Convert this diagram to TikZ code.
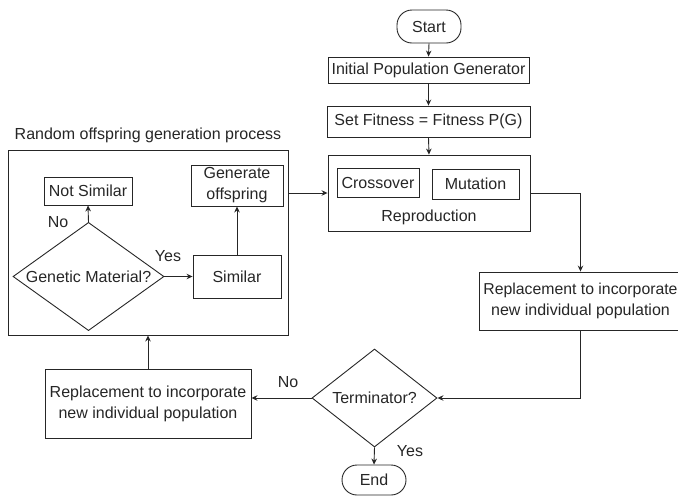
\documentclass[tikz,border=0pt]{standalone}
\usepackage{fontspec}
\setmainfont{Liberation Sans}
\usetikzlibrary{shapes.geometric,arrows.meta}
\begin{document}
\begin{tikzpicture}[x=1pt,y=-1pt,
  every node/.style={font=\fontsize{16pt}{21pt}\selectfont, text=black!85, inner sep=0pt, align=center},
  box/.style={draw=black!85, line width=0.9pt, rectangle},
  pill/.style={draw=black!85, line width=0.9pt, rectangle, rounded corners=15pt},
  dia/.style={draw=black!85, line width=0.9pt, diamond, aspect=1.3},
  lbl/.style={},
  conn/.style={draw=black!85, line width=0.9pt, -{Stealth[length=6pt,width=5.5pt,inset=2pt]}}]
\useasboundingbox (0,0) rectangle (678,496);
\begin{scope}
\clip (0,0) rectangle (678,496);
% right column
\node[pill, minimum width=64pt, minimum height=33pt] (start) at (429,26.5) {Start};
\node[box, minimum width=201pt, minimum height=26pt] (init) at (428.5,70) {Initial Population Generator};
\node[box, minimum width=203pt, minimum height=31pt] (fit) at (428.5,121.5) {Set Fitness = Fitness P(G)};
\node[box, minimum width=202pt, minimum height=76pt] (repro) at (429,193) {};
\node[box, minimum width=82pt, minimum height=29pt] (cross) at (378,182.5) {Crossover};
\node[box, minimum width=87pt, minimum height=30pt] (mut) at (475.5,184) {Mutation};
\node[lbl] (reprolbl) at (429,217) {Reproduction};
\node[box, minimum width=202pt, minimum height=58pt] (rep1) at (580.5,301) {\fontsize{15.8pt}{21pt}\selectfont Replacement to incorporate\\new individual population};
\node[dia, minimum width=125pt, minimum height=98pt] (term) at (374.5,398) {Terminator?};
\node[pill, minimum width=64pt, minimum height=30pt] (end) at (374,480) {End};
\node[box, minimum width=206pt, minimum height=69pt] (rep2) at (148,403.5) {Replacement to incorporate\\new individual population};
% left process box
\node[lbl] (title) at (148,135) {Random offspring generation process};
\node[box, minimum width=280pt, minimum height=185pt] (big) at (148,242.5) {};
\node[box, minimum width=88pt, minimum height=28pt] (notsim) at (88,191) {Not Similar};
\node[dia, minimum width=151pt, minimum height=95pt] (gen) at (88.5,276.5) {Genetic Material?};
\node[box, minimum width=88pt, minimum height=43pt] (sim) at (237,276.5) {Similar};
\node[box, minimum width=92pt, minimum height=41pt] (genoff) at (237,185.5) {Generate\\offspring};
% labels
\node[lbl] (no1) at (58,222) {No};
\node[lbl] (yes1) at (168,256) {Yes};
\node[lbl] (no2) at (288,382) {No};
\node[lbl] (yes2) at (410,451) {Yes};
% connectors
\draw[conn] (start.south) -- (init.north);
\draw[conn] (init.south) -- (fit.north);
\draw[conn] (fit.south) -- (repro.north);
\draw[conn] (repro.west -| big.east) -- (repro.west);
\draw[conn] (repro.east) -| (rep1.north);
\draw[conn] (rep1.south) |- (term.east);
\draw[conn] (term.west) -- (term.west -| rep2.east);
\draw[conn] (term.south) -- (end.north);
\draw[conn] (rep2.north) -- (rep2.north |- big.south);
\draw[conn] (gen.north) -- (notsim.south);
\draw[conn] (gen.east) -- (sim.west);
\draw[conn] (sim.north) -- (genoff.south);
\end{scope}
\end{tikzpicture}
\end{document}
